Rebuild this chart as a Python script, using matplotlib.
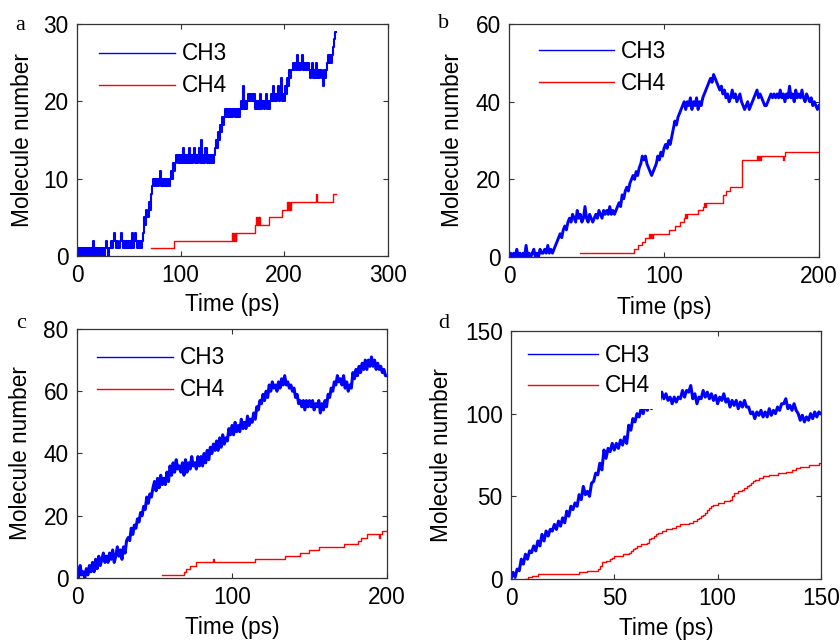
import numpy as np
import matplotlib
matplotlib.use("Agg")
import matplotlib.pyplot as plt

plt.rcParams['font.family'] = ['Liberation Sans', 'DejaVu Sans']

# ---------------- data ----------------
# Panel a: CH3 sampled every 1 ps from 0 ps
ch3_a = [0,1,0,1,0,1,0,1,0,1, 0,1,0,1,0,2,0,1,0,1, 0,1,0,1,0,1,0,1,2,1, 0,1,
         1,2,1,2,3,2,1,2, 1,2,3,2,1,2,1,2,1,2, 1,2,1,3,1,2,3,2,1,2, 1,2,1,2,
         3,5,4,6,5,7,6,8,9,10,
         9,10,9,10,9,10,11,9,10,9,10,9,10,9,10,9,10,11,
         10,12,11,12,13,12,
         13,12,13,12,14,12,13,12,13,12,14,12,13,12,13,14,12,13,12,13,14,12,15,12,13,12,14,12,13,12,13,12,13,12,
         13,14,15,14,16,15,17,16,18,17,
         18,19,18,19,18,19,18,19,18,19,18,19,18,19,18,19,20,19,
         22,19,20,19,
         20,21,20,21,20,21,20,21,
         19,20,19,20,19,21,19,20,19,20,21,19,20,19,
         20,21,20,22,20,21,20,21,22,20,21,23,20,21,
         20,22,21,23,22,24,23,
         24,25,24,25,24,26,24,25,24,25,26,24,25,24,25,24,25,24,
         23,24,25,23,24,23,25,23,24,23,24,23,22,24,23,
         24,25,26,25,26,25,
         26,27,28,29,29]
ch4_a_t = [71, 93.5, 149.5, 150.2, 150.9, 151.6, 152.3, 153, 153.7, 172, 172.8, 173.6,
           174.4, 175.2, 176, 176.8, 185, 198, 202.5, 203.2, 203.9, 204.6, 205.3, 206,
           206.7, 231, 231.8, 247, 250]
ch4_a = [1, 2, 3, 2, 3, 2, 3, 2, 3, 4, 5, 4,
         5, 4, 5, 4, 5, 6, 7, 6, 7, 6, 7, 6,
         7, 8, 7, 8, 8]

# Panel b: CH3 sampled every 1 ps from 0 ps
ch3_b = [0,1,0,1,0,2,0,1,0,1,0,3,0,1,0,1,2,0,1,0,2,1,
         1,2,1,3,1,2,1,2,
         3,4,5,6,5,7,8,7,9,
         10,9,11,10,9,12,10,11,9,10,13,10,9,11,10,9,
         10,11,10,12,11,10,12,11,12,11,13,11,12,11,12,13,
         14,13,16,15,17,18,17,19,
         20,21,20,22,21,23,24,
         26,25,26,
         24,23,22,21,22,23,24,
         26,25,27,26,28,29,28,30,29,
         31,33,35,34,36,37,38,
         39,40,38,40,39,41,38,40,39,41,38,40,39,
         41,42,43,44,45,46,45,47,
         46,45,44,43,44,42,43,41,
         42,40,41,43,41,42,40,41,42,40,
         39,38,39,40,38,39,40,
         41,42,43,41,42,41,40,39,
         39,40,41,42,41,42,41,
         42,41,43,41,42,40,42,41,44,41,42,40,43,41,42,41,43,41,
         40,42,41,40,41,39,40,39,38,39]
ch4_b_t = [46, 80.5, 83, 85.5, 88, 90, 90.7, 91.4, 92.1, 92.8, 103, 107, 110, 113, 113.7,
           114.4, 115.1, 119, 122, 125, 126, 126.7, 127.4, 132.5, 138, 140, 142.4, 150,
           160, 160.7, 161.4, 162.1, 162.8, 163.5, 176.5, 177.2, 178, 200]
ch4_b = [1, 2, 3, 4, 5, 6, 5, 6, 5, 6, 7, 8, 9, 10, 11,
         10, 11, 11, 12, 13, 14, 13, 14, 14, 16, 17, 18, 25,
         26, 25, 26, 25, 26, 26, 25, 26, 27, 27]

# Panel c: CH3 sampled every 1 ps from 0 ps
ch3_c = [3,0,4,1,2,0,3,1,4,2,
         5,2,6,3,7,4,6,8,5,7,
         5,8,6,9,5,7,10,7,9,6,
         10,8,12,13,12,16,14,17,16,19,
         18,21,20,23,22,26,24,27,26,29,
         31,28,32,29,33,30,32,30,34,31,
         36,33,37,34,38,35,36,34,37,33,
         38,34,37,35,39,36,37,35,39,36,
         39,36,40,37,41,38,42,40,43,41,
         44,41,45,42,46,43,45,44,48,46,
         49,46,50,47,49,47,51,48,50,48,
         52,49,51,50,53,51,55,54,57,56,
         59,57,60,58,62,60,63,61,62,60,
         63,61,64,62,65,62,63,61,62,60,
         61,58,59,56,57,55,57,54,57,55,
         57,55,57,54,56,55,57,53,56,54,
         57,55,59,58,61,60,63,62,65,63,
         64,62,65,61,63,60,62,61,66,64,
         67,65,68,66,69,67,70,67,70,68,
         71,68,70,67,69,67,68,66,67,65,
         65]
ch4_c_t = [55, 69, 70.5, 73, 77, 88, 88.7, 115, 134, 144, 150, 156, 172, 181, 183, 187,
           195, 195.7, 197, 200]
ch4_c = [1, 2, 3, 4, 5, 6, 5, 6, 7, 8, 9, 10, 11, 12, 13, 14,
         13, 14, 15, 15]

# Panel d: CH3 sampled every 1 ps from 0 ps
ch3_d = [0,4,1,6,5,12,9,15,12,17,
         16,20,17,23,20,27,23,29,26,30,
         29,33,30,35,32,37,34,41,38,44,
         42,46,44,51,48,56,51,53,50,58,
         59,64,63,70,66,78,73,79,77,82,
         78,82,79,84,81,86,82,93,90,97,
         95,100,98,103,100,106,102,106,103,107,
         106,112,108,113,109,112,108,110,106,110,
         107,110,109,114,110,114,113,117,109,112,
         106,110,109,114,110,113,109,112,108,111,
         106,110,108,112,107,109,104,108,105,108,
         103,107,104,108,104,104,100,101,97,101,
         99,102,98,101,98,103,99,102,100,104,
         102,106,106,109,103,105,102,106,102,100,
         96,99,95,98,96,100,97,101,98,101,
         100]
# Panel d: CH4 sampled every 1 ps from 7 ps
ch4_d = [0,1,1,2,2,2,3,3,3,3,
         3,3,3,3,3,3,3,3,3,3,
         3,3,3,3,3,3,4,4,4,4,
         5,5,5,5,5,6,8,10,10,11,
         11,12,13,14,14,14,14,15,15,15,
         16,17,18,19,20,20,21,21,21,22,
         24,25,26,27,28,28,29,29,30,30,
         30,31,31,32,32,33,33,33,33,34,
         34,35,35,36,37,38,39,40,42,43,
         44,45,45,46,46,46,47,47,47,48,
         50,52,52,53,53,54,55,56,57,58,
         59,60,60,61,61,62,62,62,63,63,
         63,63,64,64,64,64,65,65,65,66,
         66,67,67,68,68,68,68,69,69,69,
         69,69,70,70]
ch4_d_start = 7

labels = ['CH3', 'CH4']
panel_letters = ['a', 'b', 'c', 'd']

# ---------------- figure ----------------
FS = 16.3
BLUE = '#0000FF'
RED = '#FF0000'
SPINE = '#333333'

fig = plt.figure(figsize=(8.4, 6.41), dpi=100)

def make_axes(rect, xlim, xticks, ylim, yticks, xlab_pos, ylab_pos):
    ax = fig.add_axes(rect)
    ax.set_xlim(*xlim)
    ax.set_ylim(*ylim)
    ax.set_xticks(xticks)
    ax.set_yticks(yticks)
    ax.tick_params(direction='in', top=True, right=True, length=3.5, width=0.8,
                   color=SPINE, labelsize=FS, pad=6)
    for s in ax.spines.values():
        s.set_color(SPINE)
        s.set_linewidth(0.9)
        s.set_zorder(3)
    ax.set_xlabel('Time (ps)', fontsize=FS, va='center')
    ax.set_ylabel('Molecule number', fontsize=FS, va='center', ha='center')
    ax.xaxis.set_label_coords(0.5, xlab_pos)
    ax.yaxis.set_label_coords(ylab_pos, 0.5)
    return ax

def add_legend(ax, hl, anchor, handlelength, borderpad=0.2, labelspacing=0.4):
    leg = ax.legend(hl, labels, loc='upper left', bbox_to_anchor=anchor, fontsize=FS,
                    handlelength=handlelength, handletextpad=0.3, labelspacing=labelspacing,
                    borderpad=borderpad, borderaxespad=0, frameon=True, fancybox=False,
                    edgecolor='none', facecolor='white', framealpha=1)
    leg.set_zorder(2.8)
    for h in leg.get_lines():
        h.set_linewidth(1.0)
    return leg

# a
axa = make_axes([0.0917, 0.6006, 0.370, 0.362], (0, 300), [0, 100, 200, 300],
                (0, 30), [0, 10, 20, 30], -0.211, -0.177)
ta = np.arange(len(ch3_a))
la1, = axa.plot(ta, ch3_a, color=BLUE, lw=1.5, drawstyle='steps-post')
la2, = axa.plot(ch4_a_t, ch4_a, color=RED, lw=1.0, drawstyle='steps-post')
add_legend(axa, [la1, la2], (0.056, 0.94), 3.36)

# b
axb = make_axes([0.606, 0.599, 0.369, 0.3635], (0, 200), [0, 100, 200],
                (0, 60), [0, 20, 40, 60], -0.215, -0.181)
tb = np.arange(len(ch3_b))
lb1, = axb.plot(tb, ch3_b, color=BLUE, lw=2.1)
lb2, = axb.plot(ch4_b_t, ch4_b, color=RED, lw=1.0, drawstyle='steps-post')
add_legend(axb, [lb1, lb2], (0.082, 0.953), 3.32)

# c
axc = make_axes([0.0917, 0.0983, 0.369, 0.3885], (0, 200), [0, 100, 200],
                (0, 80), [0, 20, 40, 60, 80], -0.197, -0.181)
tc = np.arange(len(ch3_c))
lc1, = axc.plot(tc, ch3_c, color=BLUE, lw=2.2)
lc2, = axc.plot(ch4_c_t, ch4_c, color=RED, lw=1.0, drawstyle='steps-post')
add_legend(axc, [lc1, lc2], (0.050, 0.948), 3.36)

# d
axd = make_axes([0.6083, 0.0967, 0.369, 0.387], (0, 150), [0, 50, 100, 150],
                (0, 150), [0, 50, 100, 150], -0.198, -0.223)
td = np.arange(len(ch3_d))
ld1, = axd.plot(td, ch3_d, color=BLUE, lw=2.2)
td4 = ch4_d_start + np.arange(len(ch4_d))
ld2, = axd.plot(td4, ch4_d, color=RED, lw=1.0, drawstyle='steps-post')
add_legend(axd, [ld1, ld2], (0.02, 0.995), 3.06, borderpad=0.5, labelspacing=0.35)

# panel letters
for (x, y), s in zip([(20, 25), (444, 23), (21, 323), (444, 323)], panel_letters):
    fig.text(x / 840, 1 - y / 641, s, fontsize=16, family=['Liberation Serif', 'DejaVu Serif'],
             ha='center', va='center')

fig.savefig('out.png', dpi=100)
